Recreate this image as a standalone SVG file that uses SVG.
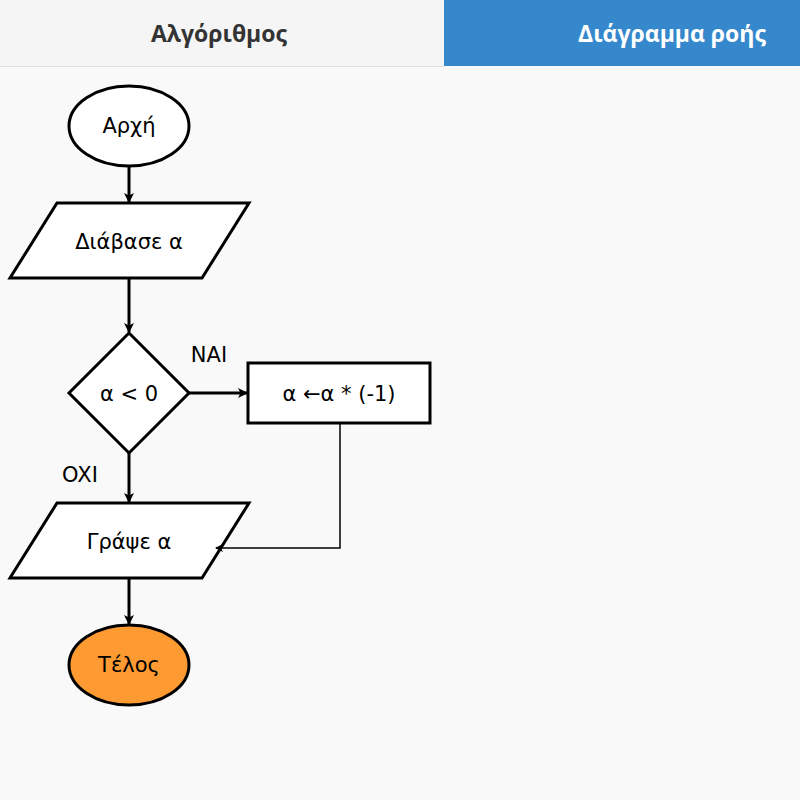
<svg xmlns="http://www.w3.org/2000/svg" width="800" height="800" viewBox="0 0 800 800">
<style>
.shape{stroke:#000;stroke-width:3;fill:#fff}
.t{font-family:"DejaVu Sans","Liberation Sans",sans-serif;font-size:21px;fill:#000;text-anchor:middle;dominant-baseline:central}
.h{font-family:"Open Sans","Liberation Sans",sans-serif;font-size:23px;font-weight:bold;text-anchor:middle;dominant-baseline:central}
.c{stroke:#000;stroke-width:3;fill:none}
.thin{stroke:#000;stroke-width:1.5;fill:none}
</style>
<defs>
<marker id="ah" markerWidth="10" markerHeight="10" refX="9" refY="5" orient="auto" markerUnits="userSpaceOnUse">
<path d="M0,0 L10,5 L0,10 L2.5,5 Z" fill="#000"/>
</marker>
<marker id="ahs" markerWidth="8" markerHeight="8" refX="7" refY="4" orient="auto" markerUnits="userSpaceOnUse">
<path d="M0,0 L8,4 L0,8 L2,4 Z" fill="#000"/>
</marker>
</defs>
<rect width="800" height="800" fill="#f9f9f9"/>
<g id="tabs">
<rect x="0" y="0" width="444" height="66" fill="#f5f5f5"/>
<line x1="0" y1="66.5" x2="444" y2="66.5" stroke="#e0e0e0" stroke-width="1"/>
<rect x="444" y="0" width="356" height="66" fill="#3588cc"/>
<text class="h" x="219" y="33" fill="#333">Αλγόριθμος</text>
<text class="h" x="672" y="33" fill="#fff">Διάγραμμα ροής</text>
</g>
<g id="start">
<ellipse class="shape" cx="129" cy="126" rx="60" ry="40"/>
<text class="t" x="129" y="126">Αρχή</text>
</g>
<g id="read">
<polygon class="shape" points="57,203 249,203 202,278 10,278"/>
<text class="t" x="129" y="242">Διάβασε α</text>
</g>
<g id="decision">
<polygon class="shape" points="129,333 189,393 129,453 69,393"/>
<text class="t" x="129" y="394">α &lt; 0</text>
</g>
<g id="process">
<rect class="shape" x="248" y="363" width="182" height="60"/>
<text class="t" x="339" y="394">α ←α * (-1)</text>
</g>
<g id="write">
<polygon class="shape" points="57,503 249,503 202,578 10,578"/>
<text class="t" x="129" y="542">Γράψε α</text>
</g>
<g id="end">
<ellipse class="shape" cx="129" cy="665" rx="60" ry="40" style="fill:#fd9a32"/>
<text class="t" x="129" y="665">Τέλος</text>
</g>
<g id="connectors">
<line class="c" x1="129" y1="166" x2="129" y2="202" marker-end="url(#ah)"/>
<line class="c" x1="129" y1="278" x2="129" y2="332" marker-end="url(#ah)"/>
<line class="c" x1="189" y1="393" x2="247" y2="393" marker-end="url(#ah)"/>
<line class="c" x1="129" y1="453" x2="129" y2="502" marker-end="url(#ah)"/>
<line class="c" x1="129" y1="578" x2="129" y2="624" marker-end="url(#ah)"/>
<polyline class="thin" points="340,423 340,548 216,548" marker-end="url(#ahs)"/>
<text class="t" x="209" y="355">NAI</text>
<text class="t" x="80" y="475">OXI</text>
</g>
</svg>
